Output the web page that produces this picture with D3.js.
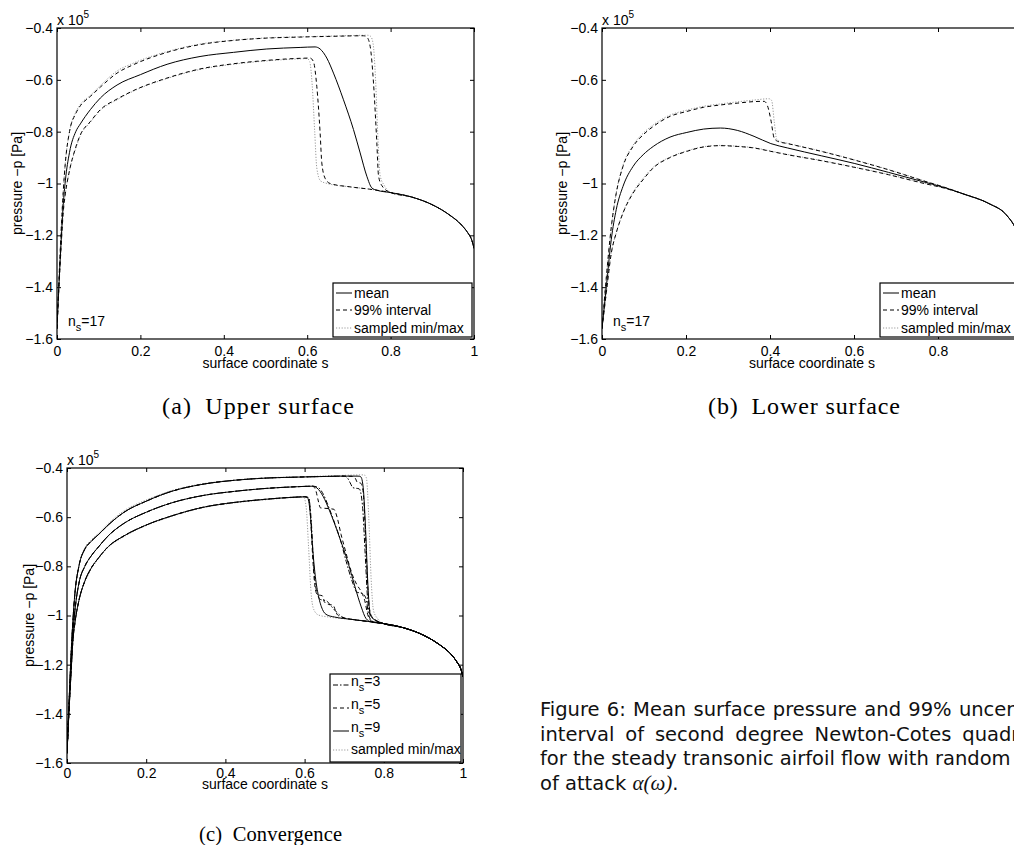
<!DOCTYPE html>
<html>
<head>
<meta charset="utf-8">
<style>
body {margin: 0; background: #fff;}
svg {display: block; font-family: "Liberation Sans", Arial, sans-serif;}
</style>
</head>
<body>
<svg id="fig" width="1014" height="845"></svg>

<script src="https://cdn.jsdelivr.net/npm/d3@7"></script>
<script>
// axis ticks shared by all three panels
var xTicks = [0, 0.2, 0.4, 0.6, 0.8, 1];
var yTicks = [-0.4, -0.6, -0.8, -1, -1.2, -1.4, -1.6];

// (a) upper surface, [s, -p / 1e5]
var tailA = [[0.8,-1.035],[0.85,-1.052],[0.9,-1.082],[0.94,-1.12],[0.97,-1.16],[0.985,-1.19],[0.995,-1.22],[1,-1.25]];
var meanA = [[0,-1.56],[0.005,-1.38],[0.01,-1.22],[0.015,-1.08],[0.02,-0.99],[0.03,-0.88],[0.045,-0.8],[0.056,-0.77],[0.08,-0.715],[0.104,-0.67],[0.144,-0.62],[0.2,-0.58],[0.264,-0.54],[0.343,-0.51],[0.423,-0.494],[0.503,-0.481],[0.583,-0.475],[0.619,-0.473],[0.631,-0.481],[0.647,-0.516],[0.663,-0.574],[0.687,-0.677],[0.711,-0.792],[0.727,-0.882],[0.743,-0.972],[0.755,-1.017],[0.767,-1.026]];
var upA = [[0,-1.56],[0.005,-1.36],[0.01,-1.18],[0.015,-1.03],[0.02,-0.92],[0.03,-0.8],[0.045,-0.73],[0.056,-0.70],[0.08,-0.664],[0.104,-0.628],[0.144,-0.574],[0.184,-0.541],[0.264,-0.494],[0.343,-0.464],[0.423,-0.448],[0.503,-0.439],[0.583,-0.435],[0.663,-0.432],[0.735,-0.43],[0.743,-0.435],[0.751,-0.471],[0.759,-0.612],[0.767,-0.844],[0.771,-0.97],[0.779,-1.008]];
var loA = [[0,-1.56],[0.005,-1.39],[0.01,-1.24],[0.015,-1.11],[0.02,-1.04],[0.03,-0.95],[0.045,-0.86],[0.056,-0.812],[0.08,-0.761],[0.104,-0.715],[0.144,-0.674],[0.184,-0.641],[0.264,-0.593],[0.343,-0.558],[0.423,-0.538],[0.503,-0.525],[0.583,-0.517],[0.607,-0.516],[0.615,-0.53],[0.623,-0.625],[0.631,-0.805],[0.635,-0.92],[0.643,-0.98],[0.655,-1.0],[0.703,-1.013],[0.75,-1.022],[0.783,-1.03]];
var maxA = [[0,-1.56],[0.005,-1.36],[0.01,-1.18],[0.015,-1.03],[0.02,-0.92],[0.03,-0.8],[0.045,-0.725],[0.056,-0.695],[0.08,-0.66],[0.104,-0.622],[0.144,-0.566],[0.184,-0.535],[0.264,-0.491],[0.343,-0.462],[0.423,-0.447],[0.503,-0.438],[0.583,-0.434],[0.663,-0.431],[0.745,-0.428],[0.752,-0.432],[0.758,-0.46],[0.764,-0.6],[0.77,-0.84],[0.775,-0.97],[0.785,-1.008]];
var minA = [[0,-1.56],[0.005,-1.39],[0.01,-1.24],[0.015,-1.11],[0.02,-1.04],[0.03,-0.95],[0.045,-0.865],[0.056,-0.815],[0.08,-0.764],[0.104,-0.718],[0.144,-0.677],[0.184,-0.643],[0.264,-0.595],[0.343,-0.56],[0.423,-0.54],[0.503,-0.527],[0.583,-0.519],[0.6,-0.518],[0.606,-0.53],[0.612,-0.62],[0.618,-0.8],[0.623,-0.94],[0.632,-0.99],[0.648,-1.0],[0.703,-1.013],[0.75,-1.022],[0.783,-1.03]];

// (b) lower surface
var tailB = [[0.86,-1.04],[0.922,-1.078],[0.962,-1.12],[0.986,-1.178],[1,-1.24]];
var meanB = [[0,-1.56],[0.0104,-1.397],[0.022,-1.217],[0.034,-1.10],[0.05,-1.011],[0.074,-0.934],[0.098,-0.889],[0.122,-0.857],[0.162,-0.821],[0.202,-0.803],[0.242,-0.79],[0.282,-0.786],[0.322,-0.795],[0.362,-0.818],[0.402,-0.846],[0.442,-0.863],[0.522,-0.893],[0.602,-0.923],[0.682,-0.957],[0.762,-0.992],[0.82,-1.018]];
var upB = [[0,-1.56],[0.0104,-1.36],[0.022,-1.17],[0.034,-1.037],[0.05,-0.934],[0.074,-0.857],[0.098,-0.812],[0.122,-0.78],[0.162,-0.741],[0.202,-0.722],[0.242,-0.706],[0.282,-0.697],[0.322,-0.69],[0.362,-0.684],[0.386,-0.683],[0.394,-0.70],[0.402,-0.754],[0.41,-0.825],[0.418,-0.837],[0.442,-0.846],[0.522,-0.876],[0.602,-0.91],[0.682,-0.947],[0.762,-0.988],[0.82,-1.017]];
var loB = [[0,-1.56],[0.0104,-1.42],[0.022,-1.27],[0.034,-1.19],[0.05,-1.114],[0.074,-1.037],[0.098,-0.985],[0.122,-0.94],[0.162,-0.9],[0.202,-0.876],[0.242,-0.859],[0.282,-0.854],[0.322,-0.857],[0.362,-0.863],[0.402,-0.876],[0.442,-0.889],[0.522,-0.912],[0.602,-0.938],[0.682,-0.966],[0.762,-0.998],[0.82,-1.02]];
var maxB = [[0,-1.56],[0.0104,-1.36],[0.022,-1.17],[0.034,-1.035],[0.05,-0.93],[0.074,-0.852],[0.098,-0.806],[0.122,-0.774],[0.162,-0.736],[0.202,-0.717],[0.242,-0.702],[0.282,-0.693],[0.322,-0.685],[0.362,-0.678],[0.398,-0.673],[0.404,-0.68],[0.41,-0.76],[0.416,-0.83],[0.424,-0.838],[0.442,-0.845],[0.522,-0.875],[0.602,-0.909],[0.682,-0.946],[0.762,-0.987],[0.82,-1.017]];
var minB = [[0,-1.56],[0.0104,-1.42],[0.022,-1.27],[0.034,-1.19],[0.05,-1.112],[0.074,-1.033],[0.098,-0.98],[0.122,-0.937],[0.162,-0.898],[0.202,-0.874],[0.242,-0.858],[0.282,-0.853],[0.322,-0.856],[0.362,-0.862],[0.402,-0.875],[0.442,-0.888],[0.522,-0.911],[0.602,-0.937],[0.682,-0.965],[0.762,-0.997],[0.82,-1.02]];

// (c) convergence: leading parts shared by n_s = 3, 5, 9, then shock region per n_s
var tailC = [[0.8,-1.033],[0.85,-1.05],[0.9,-1.08],[0.94,-1.118],[0.97,-1.158],[0.985,-1.19],[0.995,-1.22],[1,-1.25]];
var frontUpC = [[0,-1.56],[0.005,-1.36],[0.01,-1.17],[0.015,-1.02],[0.02,-0.91],[0.03,-0.8],[0.045,-0.73],[0.06,-0.70],[0.08,-0.67],[0.104,-0.632],[0.144,-0.58],[0.2,-0.535],[0.264,-0.495],[0.343,-0.466],[0.423,-0.45],[0.503,-0.441],[0.583,-0.437],[0.663,-0.434],[0.7,-0.433]];
var frontMeanC = [[0,-1.56],[0.005,-1.38],[0.01,-1.21],[0.015,-1.07],[0.02,-0.98],[0.03,-0.87],[0.045,-0.8],[0.06,-0.76],[0.08,-0.72],[0.104,-0.676],[0.144,-0.625],[0.2,-0.58],[0.264,-0.542],[0.343,-0.512],[0.423,-0.495],[0.503,-0.483],[0.583,-0.476],[0.62,-0.474]];
var frontLoC = [[0,-1.56],[0.005,-1.39],[0.01,-1.24],[0.015,-1.1],[0.02,-1.03],[0.03,-0.94],[0.045,-0.86],[0.06,-0.81],[0.08,-0.765],[0.104,-0.72],[0.144,-0.676],[0.2,-0.632],[0.264,-0.595],[0.343,-0.56],[0.423,-0.54],[0.503,-0.527],[0.583,-0.518],[0.6,-0.517]];
var up9 = [[0.735,-0.433],[0.742,-0.436],[0.748,-0.48],[0.754,-0.65],[0.76,-0.88],[0.765,-0.99],[0.772,-1.012]];
var up5 = [[0.72,-0.434],[0.728,-0.442],[0.733,-0.458],[0.742,-0.462],[0.748,-0.5],[0.754,-0.68],[0.76,-0.9],[0.766,-0.99],[0.775,-1.014]];
var up3 = [[0.708,-0.44],[0.715,-0.46],[0.722,-0.48],[0.738,-0.485],[0.746,-0.55],[0.753,-0.75],[0.759,-0.93],[0.766,-1.0],[0.775,-1.014]];
var mean9 = [[0.631,-0.481],[0.647,-0.516],[0.663,-0.574],[0.687,-0.677],[0.711,-0.792],[0.727,-0.882],[0.743,-0.965],[0.755,-1.012],[0.768,-1.026]];
var mean5 = [[0.628,-0.49],[0.634,-0.53],[0.64,-0.562],[0.66,-0.565],[0.674,-0.568],[0.682,-0.6],[0.692,-0.67],[0.702,-0.73],[0.712,-0.79],[0.722,-0.84],[0.732,-0.875],[0.742,-0.9],[0.752,-0.94],[0.76,-1.0],[0.77,-1.024]];
var mean3 = [[0.635,-0.48],[0.645,-0.5],[0.66,-0.555],[0.675,-0.62],[0.69,-0.69],[0.705,-0.78],[0.72,-0.86],[0.732,-0.905],[0.745,-0.91],[0.755,-0.93],[0.762,-1.0],[0.772,-1.024]];
var lo9 = [[0.607,-0.52],[0.614,-0.58],[0.62,-0.72],[0.627,-0.84],[0.635,-0.92],[0.645,-0.975],[0.657,-0.998],[0.675,-1.006],[0.72,-1.016],[0.77,-1.026]];
var lo5 = [[0.61,-0.52],[0.615,-0.6],[0.62,-0.75],[0.626,-0.88],[0.632,-0.915],[0.645,-0.92],[0.65,-0.945],[0.66,-0.955],[0.672,-0.958],[0.68,-0.99],[0.69,-1.005],[0.72,-1.016],[0.77,-1.026]];
var lo3 = [[0.61,-0.52],[0.617,-0.62],[0.623,-0.8],[0.63,-0.9],[0.64,-0.935],[0.655,-0.94],[0.665,-0.958],[0.68,-0.985],[0.7,-1.01],[0.72,-1.016],[0.77,-1.026]];
var maxC = [[0,-1.56],[0.005,-1.36],[0.01,-1.17],[0.015,-1.02],[0.02,-0.91],[0.03,-0.8],[0.045,-0.725],[0.06,-0.695],[0.08,-0.665],[0.104,-0.626],[0.144,-0.574],[0.2,-0.53],[0.264,-0.492],[0.343,-0.464],[0.423,-0.449],[0.503,-0.44],[0.583,-0.436],[0.663,-0.432],[0.75,-0.428],[0.756,-0.44],[0.762,-0.6],[0.768,-0.85],[0.774,-0.98],[0.784,-1.012]];
var minC = [[0,-1.56],[0.005,-1.39],[0.01,-1.24],[0.015,-1.1],[0.02,-1.03],[0.03,-0.94],[0.045,-0.865],[0.06,-0.815],[0.08,-0.768],[0.104,-0.723],[0.144,-0.679],[0.2,-0.634],[0.264,-0.597],[0.343,-0.562],[0.423,-0.542],[0.503,-0.529],[0.583,-0.52],[0.598,-0.52],[0.604,-0.56],[0.61,-0.72],[0.616,-0.9],[0.623,-0.975],[0.635,-0.998],[0.66,-1.006],[0.72,-1.016],[0.77,-1.026]];

var styles = {
  solid:   {stroke: '#000', dash: null},
  dashed:  {stroke: '#000', dash: '4,3'},
  dashdot: {stroke: '#000', dash: '5,2,1.5,2'},
  dotted:  {stroke: '#9a9a9a', dash: '1.2,1.6'}
};

var svg = d3.select('#fig');
var fmtY = function(d) { return String(d).replace('-', '\u2212'); };

function drawPanel(p) {
  var g = svg.append('g').attr('transform', 'translate(' + p.left + ',' + p.top + ')');
  var x = d3.scaleLinear().domain([0, 1]).range([0, p.w]);
  var y = d3.scaleLinear().domain([-1.6, -0.4]).range([p.h, 0]);

  //clip region for the curves
  g.append('clipPath').attr('id', p.id)
    .append('rect').attr('width', p.w).attr('height', p.h);

  var line = d3.line()
      .x(function(d) { return x(d[0]); })
      .y(function(d) { return y(d[1]); })
      .curve(d3.curveMonotoneX);

  g.append('g').attr('clip-path', 'url(#' + p.id + ')')
    .selectAll('path')
    .data(p.series)
    .enter().append('path')
      .attr('d', function(d) { return line(d.data); })
      .attr('fill', 'none')
      .attr('stroke', function(d) { return styles[d.style].stroke; })
      .attr('stroke-width', 1)
      .attr('stroke-dasharray', function(d) { return styles[d.style].dash; });

  //axes, matlab style ticks pointing inward
  var axB = g.append('g').attr('transform', 'translate(0,' + p.h + ')')
      .call(d3.axisBottom(x).tickValues(xTicks).tickSizeInner(-4).tickSizeOuter(0)
        .tickPadding(p.pad).tickFormat(function(d) { return String(d); }));
  var axL = g.append('g')
      .call(d3.axisLeft(y).tickValues(yTicks).tickSizeInner(-4).tickSizeOuter(0)
        .tickPadding(4).tickFormat(fmtY));
  var axT = g.append('g')
      .call(d3.axisTop(x).tickValues(xTicks).tickSizeInner(-4).tickSizeOuter(0).tickFormat(''));
  var axR = g.append('g').attr('transform', 'translate(' + p.w + ',0)')
      .call(d3.axisRight(y).tickValues(yTicks).tickSizeInner(-4).tickSizeOuter(0).tickFormat(''));
  [axB, axL, axT, axR].forEach(function(a) {
    a.attr('font-family', null).attr('font-size', 14);
    a.select('.domain').remove();
    a.selectAll('line').attr('stroke', '#000');
    a.selectAll('text').attr('fill', '#000');
  });

  g.append('rect')
      .attr('width', p.w).attr('height', p.h)
      .attr('fill', 'none').attr('stroke', '#000').attr('stroke-width', 1.2);

  //exponent
  var ex = g.append('text').attr('x', 0).attr('y', -3).attr('font-size', 14);
  ex.append('tspan').text('x 10');
  ex.append('tspan').attr('dy', -7).attr('font-size', 10).text('5');

  //axis titles
  g.append('text')
      .attr('text-anchor', 'middle')
      .attr('x', p.w / 2).attr('y', p.h + p.xlab)
      .attr('font-size', 14)
      .text('surface coordinate s');
  g.append('text')
      .attr('text-anchor', 'middle')
      .attr('transform', 'rotate(-90)')
      .attr('x', -p.h / 2).attr('y', p.ylab)
      .attr('font-size', 14)
      .text('pressure \u2212p [Pa]');

  //n_s label
  if (p.ns) {
    var t = g.append('text').attr('x', p.ns[0]).attr('y', p.ns[1]).attr('font-size', 14);
    t.append('tspan').text('n');
    t.append('tspan').attr('dy', 5).attr('font-size', 11).text('s');
    t.append('tspan').attr('dy', -5).text('=17');
  }

  //legend
  var L = p.legend;
  var lg = svg.append('g');
  lg.append('rect')
      .attr('x', L.x).attr('y', L.y).attr('width', L.w).attr('height', L.h)
      .attr('fill', '#fff').attr('stroke', '#000').attr('stroke-width', 1.2);
  L.items.forEach(function(it) {
    lg.append('line')
        .attr('x1', L.x + 3).attr('x2', L.x + 19)
        .attr('y1', it.ly).attr('y2', it.ly)
        .attr('stroke', styles[it.style].stroke)
        .attr('stroke-dasharray', styles[it.style].dash);
    var t = lg.append('text').attr('x', L.x + 21).attr('y', it.ty).attr('font-size', 14);
    if (it.sub) {
      t.append('tspan').text('n');
      t.append('tspan').attr('dy', 5).attr('font-size', 11).text('s');
      t.append('tspan').attr('dy', -5).text(it.label);
    } else {
      t.text(it.label);
    }
  });
}

var legend3 = function(x, y, w) {
  return {x: x, y: y, w: w, h: 54, items: [
    {label: 'mean', style: 'solid', ty: y + 15, ly: y + 10},
    {label: '99% interval', style: 'dashed', ty: y + 32, ly: y + 27},
    {label: 'sampled min/max', style: 'dotted', ty: y + 50, ly: y + 45}
  ]};
};

drawPanel({id: 'clipA', left: 57, top: 28, w: 417, h: 311, pad: 7, xlab: 29, ylab: -35, ns: [11, 298],
  series: [
    {data: maxA.concat(tailA), style: 'dotted'},
    {data: minA.concat(tailA), style: 'dotted'},
    {data: upA.concat(tailA), style: 'dashed'},
    {data: loA.concat(tailA), style: 'dashed'},
    {data: meanA.concat(tailA), style: 'solid'}
  ],
  legend: legend3(333, 283, 139)});

drawPanel({id: 'clipB', left: 602, top: 28, w: 420, h: 311, pad: 7, xlab: 29, ylab: -35, ns: [11, 298],
  series: [
    {data: maxB.concat(tailB), style: 'dotted'},
    {data: minB.concat(tailB), style: 'dotted'},
    {data: upB.concat(tailB), style: 'dashed'},
    {data: loB.concat(tailB), style: 'dashed'},
    {data: meanB.concat(tailB), style: 'solid'}
  ],
  legend: legend3(880, 283, 139)});

drawPanel({id: 'clipC', left: 67, top: 468, w: 396, h: 295, pad: 5, xlab: 26, ylab: -33,
  series: [
    {data: maxC.concat(tailC), style: 'dotted'},
    {data: minC.concat(tailC), style: 'dotted'},
    {data: frontUpC.concat(up3, tailC), style: 'dashdot'},
    {data: frontMeanC.concat(mean3, tailC), style: 'dashdot'},
    {data: frontLoC.concat(lo3, tailC), style: 'dashdot'},
    {data: frontUpC.concat(up5, tailC), style: 'dashed'},
    {data: frontMeanC.concat(mean5, tailC), style: 'dashed'},
    {data: frontLoC.concat(lo5, tailC), style: 'dashed'},
    {data: frontUpC.concat(up9, tailC), style: 'solid'},
    {data: frontMeanC.concat(mean9, tailC), style: 'solid'},
    {data: frontLoC.concat(lo9, tailC), style: 'solid'}
  ],
  legend: {x: 330, y: 674, w: 131, h: 88, items: [
    {label: '=3', sub: true, style: 'dashdot', ty: 686, ly: 685},
    {label: '=5', sub: true, style: 'dashed', ty: 709, ly: 708},
    {label: '=9', sub: true, style: 'solid', ty: 732, ly: 731},
    {label: 'sampled min/max', style: 'dotted', ty: 754, ly: 750}
  ]}});

//sub captions
var subcaps = [
  {text: '(a)\u2002Upper surface', x: 162, y: 414, size: 24, len: 192},
  {text: '(b)\u2002Lower surface', x: 708, y: 414, size: 24, len: 192},
  {text: '(c)\u2002Convergence', x: 199, y: 841, size: 20.5, len: 143}
];
svg.selectAll('.subcap')
  .data(subcaps)
  .enter().append('text')
    .attr('class', 'subcap')
    .attr('x', function(d) { return d.x; })
    .attr('y', function(d) { return d.y; })
    .attr('textLength', function(d) { return d.len; })
    .attr('lengthAdjust', 'spacing')
    .attr('font-family', '"Liberation Serif", serif')
    .attr('font-size', function(d) { return d.size; })
    .text(function(d) { return d.text; });

//figure caption, lines justified to the width of the third line
var capLines = [
  'Figure 6:  Mean surface pressure and 99% uncertainty',
  'interval of second degree Newton-Cotes quadrature',
  'for the steady transonic airfoil flow with random angle'
];
var cap = svg.append('g').attr('font-family', '"DejaVu Sans", sans-serif').attr('font-size', 19.5).attr('fill', '#111');
var capX0 = 540, capY0 = 716, capDy = 24.7;
var probe = cap.append('text').text(capLines[2]);
var capW = probe.node().getComputedTextLength();
probe.remove();
capLines.forEach(function(s, i) {
  var words = s.split(/\s+/);
  var t = cap.append('text').attr('y', capY0 + i * capDy);
  var spans = words.map(function(w) { return t.append('tspan').text(w); });
  var widths = spans.map(function(sp) { return sp.node().getComputedTextLength(); });
  var gap = (capW - d3.sum(widths)) / (words.length - 1);
  var cx = capX0;
  spans.forEach(function(sp, k) { sp.attr('x', cx); cx += widths[k] + gap; });
});
var last = cap.append('text').attr('x', capX0).attr('y', capY0 + 3 * capDy);
last.append('tspan').text('of attack ');
last.append('tspan').attr('font-family', '"Liberation Serif", serif').attr('font-style', 'italic').attr('font-size', 21).text('\u03b1(\u03c9)');
last.append('tspan').text('.');
</script>
</body>
</html>
